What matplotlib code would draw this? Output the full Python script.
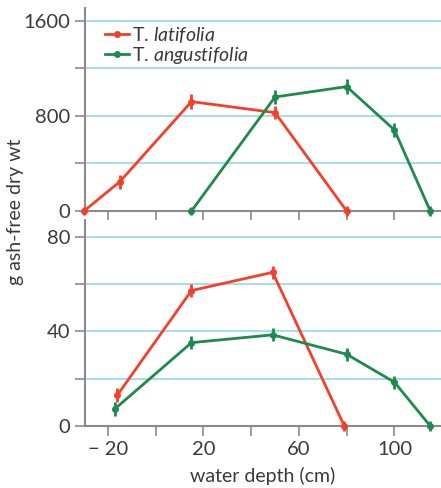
import matplotlib
matplotlib.use("Agg")
import matplotlib.pyplot as plt
from matplotlib.lines import Line2D

plt.rcParams['font.family'] = ['Lato', 'DejaVu Sans']
plt.rcParams['mathtext.fontset'] = 'custom'
plt.rcParams['mathtext.it'] = 'Lato:italic'
plt.rcParams['mathtext.rm'] = 'Lato'

# Top panel (shoots)
lat_top_x = [-30, -15, 15, 50, 80]
lat_top_y = [0, 247, 921, 828, 0]
lat_top_err = [30, 60, 60, 55, 40]
ang_top_x = [15, 50, 80, 100, 115]
ang_top_y = [0, 960, 1047, 682, 0]
ang_top_err = [30, 60, 65, 55, 40]

# Bottom panel
lat_bot_x = [-16, 15, 49, 79]
lat_bot_y = [13.1, 57.2, 64.9, 0]
lat_bot_err = [2.8, 2.8, 2.8, 2.0]
ang_bot_x = [-17, 15, 49, 80, 100, 115]
ang_bot_y = [7.3, 35.2, 38.5, 30.3, 18.5, 0]
ang_bot_err = [3.0, 2.8, 2.8, 2.8, 2.8, 2.0]

xticks = [-20, 0, 20, 40, 60, 80, 100]
xticklabels = ['\u2212 20', '', '20', '', '60', '', '100']
top_yticks = [0, 400, 800, 1200, 1600]
top_ylabels = ['0', '', '800', '', '1600']
bot_yticks = [0, 20, 40, 60, 80]
bot_ylabels = ['0', '', '40', '', '80']

RED = '#f2402b'
GREEN = '#1e8a4d'
GRID = '#a9dce8'
SPINE = '#8a8a8a'
TEXT = '#3a3a3a'

fig = plt.figure(figsize=(4.41, 4.88), dpi=100)
ax1 = fig.add_axes([85/441, 1-211/488, 1-85/441, (211-8)/488])
ax2 = fig.add_axes([85/441, 1-426/488, 1-85/441, (426-220)/488])

def style(ax, yt, yl, ylim):
    ax.set_xlim(-29.6, 119.5)
    ax.set_ylim(*ylim)
    ax.set_yticks(yt)
    ax.set_yticklabels(yl)
    ax.set_xticks(xticks)
    for s in ['top', 'right']:
        ax.spines[s].set_visible(False)
    for s in ['left', 'bottom']:
        ax.spines[s].set_color(SPINE)
        ax.spines[s].set_linewidth(1.5)
    ax.tick_params(axis='both', colors=SPINE, labelcolor=TEXT, labelsize=14.5,
                   length=7, width=1.2, direction='out')
    for y in yt[1:]:
        ax.axhline(y, color=GRID, lw=1.5, zorder=0)

style(ax1, top_yticks, top_ylabels, (0, 1709))
style(ax2, bot_yticks, bot_ylabels, (0, 87))
ax1.set_xticklabels([''] * len(xticks))
ax2.set_xticklabels(xticklabels)

kw = dict(marker='o', ms=4, lw=2, elinewidth=2, capsize=0, clip_on=False, zorder=3)
ax1.errorbar(lat_top_x, lat_top_y, yerr=lat_top_err, color=RED, **kw)
ax1.errorbar(ang_top_x, ang_top_y, yerr=ang_top_err, color=GREEN, **kw)
ax2.errorbar(lat_bot_x, lat_bot_y, yerr=lat_bot_err, color=RED, **kw)
ax2.errorbar(ang_bot_x, ang_bot_y, yerr=ang_bot_err, color=GREEN, **kw)

handles = [Line2D([], [], color=RED, marker='o', ms=4, lw=2),
           Line2D([], [], color=GREEN, marker='o', ms=4, lw=2)]
labels = ['T. $\\it{latifolia}$', 'T. $\\it{angustifolia}$']
leg = ax1.legend(handles, labels, loc='upper left', bbox_to_anchor=(0.035, 0.955),
                 frameon=False, fontsize=14, handlelength=1.2, handletextpad=0.2,
                 labelspacing=0.0, borderaxespad=0)
for t in leg.get_texts():
    t.set_color(TEXT)

ax2.set_xlabel('water depth (cm)', fontsize=14, color=TEXT, labelpad=7)
fig.text(16/441, 1-212/488, 'g ash-free dry wt', rotation=90, ha='center',
         va='center', fontsize=14, color=TEXT)

fig.savefig('out.png', dpi=100)
